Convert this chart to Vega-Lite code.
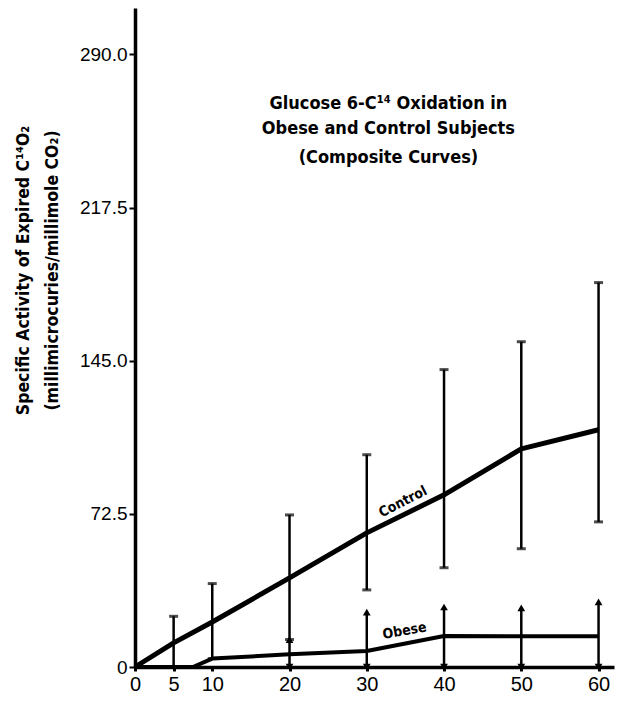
{
  "$schema": "https://vega.github.io/schema/vega-lite/v6.json",
  "autosize": "none",
  "width": 479,
  "height": 659,
  "padding": {"top": 8, "left": 135, "right": 10, "bottom": 35},
  "background": "white",
  "config": {"view": {"stroke": null}},
  "datasets": {
    "pts": [
      {"series": "Control", "t": 0, "v": 0, "lo": null, "hi": null},
      {"series": "Control", "t": 5, "v": 11.4, "lo": 0, "hi": 24},
      {"series": "Control", "t": 10, "v": 21.3, "lo": 4, "hi": 39.5},
      {"series": "Control", "t": 20, "v": 42.2, "lo": 13, "hi": 72},
      {"series": "Control", "t": 30, "v": 63.5, "lo": 36.5, "hi": 100.5},
      {"series": "Control", "t": 40, "v": 81.5, "lo": 47, "hi": 140.8},
      {"series": "Control", "t": 50, "v": 103.3, "lo": 56, "hi": 154},
      {"series": "Control", "t": 60, "v": 112.3, "lo": 68.7, "hi": 182},
      {"series": "Obese", "t": 0, "v": 0, "lo": null, "hi": null},
      {"series": "Obese", "t": 5, "v": 0, "lo": null, "hi": null},
      {"series": "Obese", "t": 7.5, "v": 0, "lo": null, "hi": null},
      {"series": "Obese", "t": 10, "v": 4, "lo": null, "hi": null},
      {"series": "Obese", "t": 20, "v": 6, "lo": 0, "hi": 13},
      {"series": "Obese", "t": 30, "v": 7.6, "lo": 0, "hi": 26},
      {"series": "Obese", "t": 40, "v": 14.7, "lo": 0, "hi": 28.4},
      {"series": "Obese", "t": 50, "v": 14.5, "lo": 0, "hi": 28},
      {"series": "Obese", "t": 60, "v": 14.5, "lo": 0, "hi": 30.8}
    ],
    "titles": [
      {"text": "Glucose 6-C¹⁴ Oxidation in", "t": 32.8, "v": 266.5},
      {"text": "Obese and Control Subjects", "t": 32.8, "v": 254.8},
      {"text": "(Composite Curves)", "t": 32.8, "v": 240.8}
    ],
    "labels": [
      {"text": "Control", "t": 34.7, "v": 78.1, "angle": 333},
      {"text": "Obese", "t": 34.9, "v": 17.0, "angle": 350}
    ]
  },
  "encoding": {
    "x": {
      "field": "t", "type": "quantitative",
      "scale": {"domain": [0, 62], "nice": false, "zero": false},
      "axis": {
        "values": [0, 5, 10, 20, 30, 40, 50, 60],
        "title": null, "grid": false,
        "domainColor": "black", "domainWidth": 3.5,
        "tickColor": "black", "tickSize": 4, "tickWidth": 3,
        "labelFont": "Liberation Sans", "labelFontSize": 20, "labelColor": "black",
        "labelPadding": 3, "labelFlush": false, "labelOverlap": false
      }
    },
    "y": {
      "field": "v", "type": "quantitative",
      "scale": {"domain": [0, 312], "nice": false, "zero": false},
      "axis": {
        "values": [0, 72.5, 145, 217.5, 290],
        "labelExpr": "datum.value == 0 ? '0' : format(datum.value, '.1f')",
        "grid": false,
        "domainColor": "black", "domainWidth": 3.5,
        "tickColor": "black", "tickSize": 6, "tickWidth": 2,
        "labelFont": "Liberation Sans", "labelFontSize": 19, "labelColor": "black",
        "labelPadding": 2, "labelFlush": false, "labelOverlap": false,
        "title": ["Specific Activity of Expired C¹⁴O₂", "(millimicrocuries/millimole CO₂)"],
        "titleFont": "DejaVu Sans Condensed, Liberation Sans, sans-serif", "titleFontWeight": "bold", "titleFontSize": 17.5,
        "titleColor": "black", "titleAngle": 270, "titleAlign": "center", "titleBaseline": "top",
        "titleLineHeight": 29, "titleX": -121, "titleY": 262
      }
    }
  },
  "layer": [
    {
      "data": {"name": "pts"},
      "transform": [{"filter": "datum.lo != null"}],
      "mark": {"type": "rule", "color": "black", "strokeWidth": 2.5},
      "encoding": {"y": {"field": "lo", "type": "quantitative"}, "y2": {"field": "hi"}}
    },
    {
      "data": {"name": "pts"},
      "transform": [{"filter": "datum.lo != null && datum.series == 'Control'"}],
      "mark": {"type": "tick", "color": "black", "orient": "horizontal", "size": 9, "thickness": 3},
      "encoding": {"y": {"field": "hi", "type": "quantitative"}}
    },
    {
      "data": {"name": "pts"},
      "transform": [{"filter": "datum.lo != null && datum.series == 'Control'"}],
      "mark": {"type": "tick", "color": "black", "orient": "horizontal", "size": 9, "thickness": 3},
      "encoding": {"y": {"field": "lo", "type": "quantitative"}}
    },
    {
      "data": {"name": "pts"},
      "transform": [{"filter": "datum.lo != null && datum.series == 'Obese'"}],
      "mark": {"type": "point", "shape": "triangle-up", "filled": true, "color": "black", "size": 60, "opacity": 1},
      "encoding": {"y": {"field": "hi", "type": "quantitative"}}
    },
    {
      "data": {"name": "pts"},
      "transform": [{"filter": "datum.lo != null && datum.series == 'Obese'"}],
      "mark": {"type": "point", "shape": "triangle-down", "filled": true, "color": "black", "size": 60, "opacity": 1},
      "encoding": {"y": {"field": "lo", "type": "quantitative"}}
    },
    {
      "data": {"name": "pts"},
      "mark": {"type": "line", "color": "black", "strokeJoin": "round"},
      "encoding": {
        "detail": {"field": "series"},
        "strokeWidth": {"field": "series", "type": "nominal", "scale": {"domain": ["Control", "Obese"], "range": [5, 4]}, "legend": null}
      }
    },
    {
      "data": {"name": "titles"},
      "mark": {"type": "text", "font": "DejaVu Sans Condensed, Liberation Sans, sans-serif", "fontWeight": "bold", "fontSize": 18, "color": "black", "align": "center", "baseline": "middle"},
      "encoding": {"text": {"field": "text"}}
    },
    {
      "data": {"name": "labels"},
      "mark": {"type": "text", "font": "DejaVu Sans Condensed, Liberation Sans, sans-serif", "fontWeight": "bold", "fontSize": 14, "color": "black", "align": "center", "baseline": "middle"},
      "encoding": {"text": {"field": "text"}, "angle": {"field": "angle", "type": "quantitative", "scale": null}}
    }
  ]
}
